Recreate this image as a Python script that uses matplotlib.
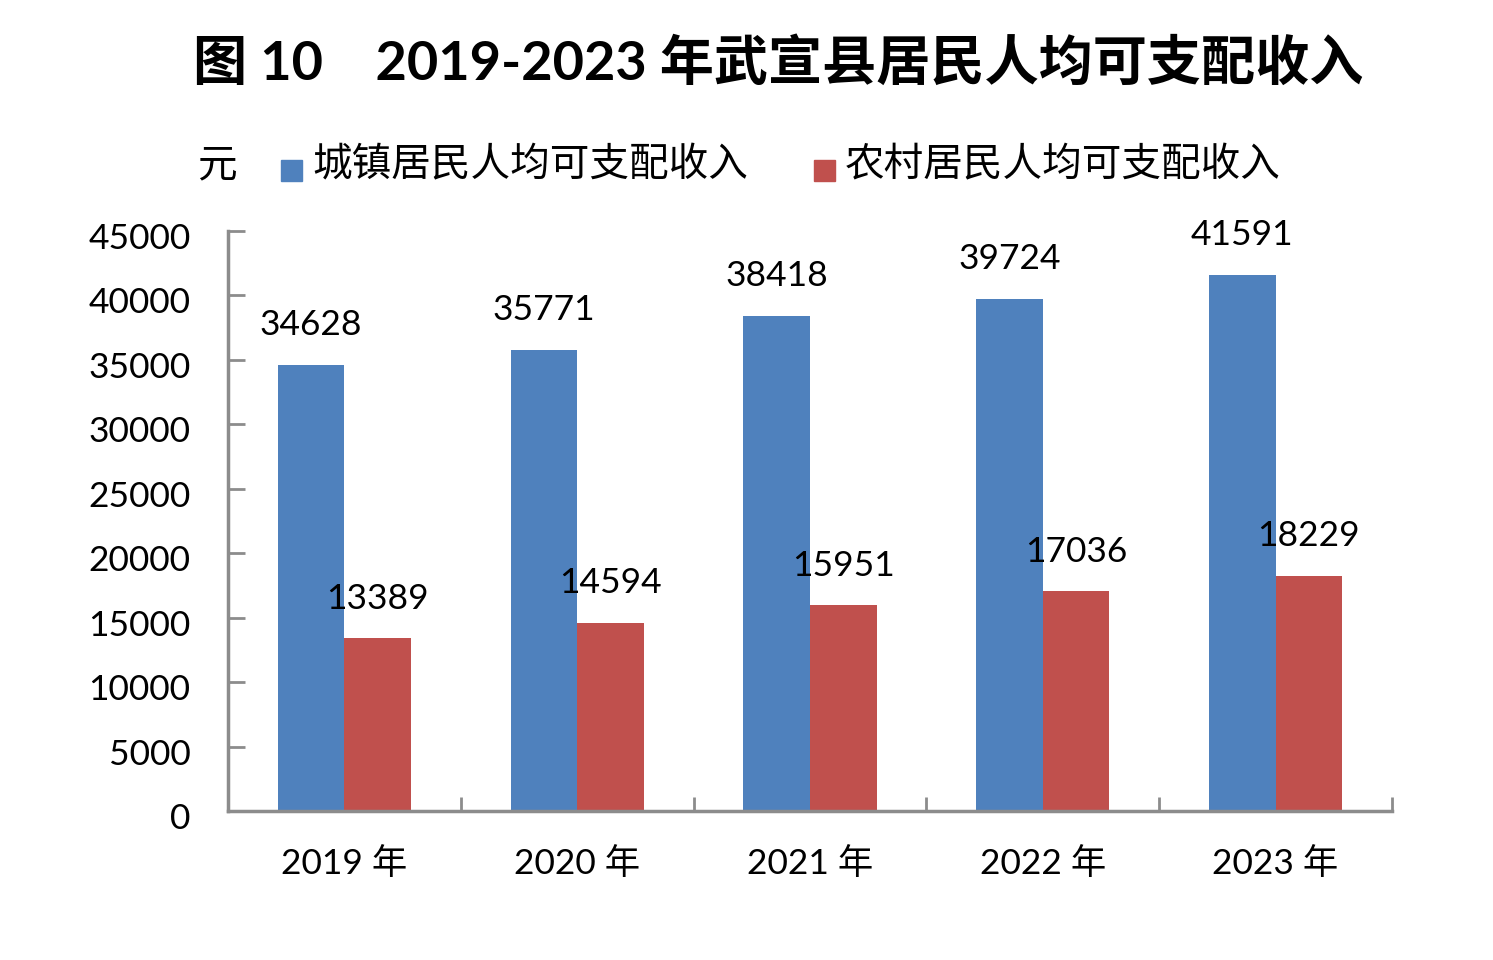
import matplotlib
matplotlib.use('Agg')
import matplotlib.pyplot as plt
import matplotlib.transforms as mtransforms
from matplotlib.patches import Rectangle
import numpy as np

plt.rcParams['font.family'] = ['Lato', 'Noto Sans CJK SC', 'DejaVu Sans']

BLUE = '#4F81BD'
RED = '#C0504D'
AXIS = '#8C8C8C'

years = ['2019 年', '2020 年', '2021 年', '2022 年', '2023 年']
urban = [34628, 35771, 38418, 39724, 41591]
rural = [13389, 14594, 15951, 17036, 18229]
yticks = [0, 5000, 10000, 15000, 20000, 25000, 30000, 35000, 40000, 45000]

fig = plt.figure(figsize=(14.93, 9.6), dpi=100)
ax = fig.add_axes([228 / 1493, 1 - 811 / 960, (1392 - 228) / 1493, (811 - 231) / 960])

x = np.arange(len(years))
w = 0.286
ax.bar(x - w / 2, urban, w, color=BLUE)
ax.bar(x + w / 2, rural, w, color=RED)

for i, (u, r) in enumerate(zip(urban, rural)):
    ax.annotate(f"{u}", (x[i] - w / 2, u), xytext=(0, 17), textcoords='offset points',
                ha='center', va='bottom', fontsize=25.5)
    ax.annotate(f"{r}", (x[i] + w / 2, r), xytext=(0, 17), textcoords='offset points',
                ha='center', va='bottom', fontsize=25.5)

ax.set_xlim(-0.5, len(years) - 0.5)
ax.set_ylim(0, 45000)
ax.set_yticks(yticks)
ax.set_yticklabels([str(v) for v in yticks], fontsize=25.5)
ax.set_xticks(x)
ax.set_xticklabels(years, fontsize=25.5)
ax.tick_params(axis='x', length=0, pad=26)
ax.tick_params(axis='y', direction='in', length=12, width=2, color=AXIS, pad=27)
# push y labels down a little, like the original
shift = mtransforms.ScaledTranslation(0, -5 / 100, fig.dpi_scale_trans)
for lab in ax.get_yticklabels():
    lab.set_transform(lab.get_transform() + shift)
# category separators on x axis
ax.set_xticks(np.arange(len(years) + 1) - 0.5, minor=True)
ax.tick_params(axis='x', which='minor', direction='in', length=10, width=2, color=AXIS)
for s in ['top', 'right']:
    ax.spines[s].set_visible(False)
for s in ['left', 'bottom']:
    ax.spines[s].set_color(AXIS)
    ax.spines[s].set_linewidth(2.5)

fig.text(778 / 1493, 1 - 63 / 960, '图 10    2019-2023 年武宣县居民人均可支配收入',
         ha='center', va='center', fontsize=39, fontweight='bold')

# legend row
fig.text(197 / 1493, 1 - 165 / 960, '元', ha='left', va='center', fontsize=28.5)
for x0, color, label in [(281, BLUE, '城镇居民人均可支配收入'), (814, RED, '农村居民人均可支配收入')]:
    fig.patches.append(Rectangle((x0 / 1493, 1 - 181 / 960), 21 / 1493, 21 / 960,
                                 transform=fig.transFigure, color=color))
    fig.text((x0 + 31) / 1493, 1 - 165 / 960, label, ha='left', va='center', fontsize=28.5)

fig.savefig('out.png', dpi=100)
